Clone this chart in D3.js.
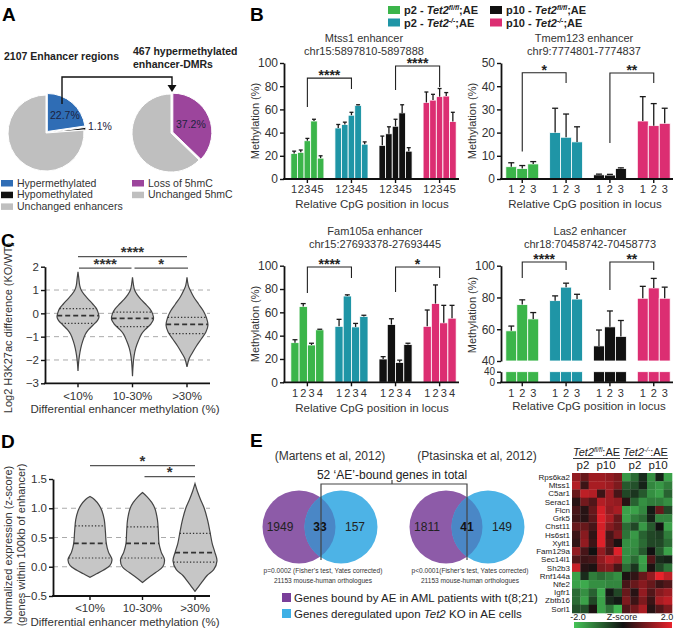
<!DOCTYPE html>
<html><head><meta charset="utf-8">
<script src="https://cdn.jsdelivr.net/npm/d3@7"></script>
<style>
body{margin:0;background:#fff;}
svg{font-family:"Liberation Sans",Arial,Helvetica,sans-serif;}
</style></head><body>
<svg id="fig" width="675" height="632"></svg>
<script>
// ---------------- DATA ----------------
const enhancerLabels = ["Hypermethylated","Hypomethylated","Unchanged enhancers"];
const enhancerPct = [22.7, 1.1, 76.2];
const dmrLabels = ["Loss of 5hmC","Unchanged 5hmC"];
const dmrPct = [37.2, 62.8];

const groupNames = ["p2","p2","p10","p10"];
const groupGeno = ["fl/fl","-/-","fl/fl","-/-"];

const mtss1Mean = [[22,23,33,50,18],[44,47,55,63.5,30],[29,39,45.5,57,24],[66,68,71,71.5,49.5]];
const mtss1Err  = [[2,2,2,1.5,2],[3,2,2.5,0.5,2],[8,6,6,7,3],[9,5,7,3,8]];
const tmem123Mean = [[5.3,4.5,6.5],[20,18,16],[1.8,1.7,4.5],[25,23,24]];
const tmem123Err  = [[1.7,1.3,1],[10.5,10,6.5],[0.3,0.3,0.3],[10.5,9.5,6.5]];
const fam105aMean = [[34,65,32,45],[48,74,47.5,56.5],[20,49.5,17,32.5],[48,67.5,51,55]];
const fam105aErr  = [[2.5,2.5,1.5,0.5],[6,1,3,1],[2,5,2,1],[14,16,15,11]];
const las2Mean = [[59,75.5,66.5],[78,86.5,79],[49.5,61.5,55.5],[79.5,86,79.5]];
const las2Err  = [[3,3,4],[3,2.5,3],[10,10,10],[7.5,6,7]];

const methCats = ["<10%","10-30%",">30%"];
// violin profiles: [value, relative density]
const h3k27Profiles = [
 [[1.78,0],[1.5,0.04],[1.2,0.08],[1.0,0.15],[0.8,0.3],[0.6,0.5],[0.4,0.7],[0.2,0.88],[0,0.97],[-0.15,1.0],[-0.3,0.93],[-0.5,0.72],[-0.7,0.5],[-0.9,0.35],[-1.2,0.22],[-1.5,0.13],[-1.8,0.07],[-2.1,0.03],[-2.47,0]],
 [[1.55,0],[1.2,0.05],[1.0,0.1],[0.8,0.22],[0.6,0.4],[0.4,0.62],[0.2,0.82],[0,0.95],[-0.25,1.0],[-0.45,0.88],[-0.7,0.6],[-0.9,0.42],[-1.2,0.27],[-1.5,0.15],[-1.8,0.08],[-2.1,0.04],[-2.7,0]],
 [[1.55,0],[1.2,0.06],[1.0,0.15],[0.7,0.32],[0.4,0.55],[0.1,0.78],[-0.2,0.93],[-0.5,1.0],[-0.8,0.9],[-1.1,0.68],[-1.4,0.45],[-1.7,0.25],[-1.95,0.1],[-2.3,0]]
];
const h3k27Median = [-0.1,-0.22,-0.47];
const h3k27Q3 = [0.2,0.05,-0.17];
const h3k27Q1 = [-0.43,-0.57,-0.87];

const exprProfiles = [
 [[1.2,0],[1.15,0.2],[1.05,0.42],[0.95,0.55],[0.8,0.65],[0.6,0.7],[0.4,0.74],[0.25,0.84],[0.12,1.0],[0.02,0.9],[-0.06,0.6],[-0.12,0.3],[-0.18,0]],
 [[1.27,0],[1.2,0.2],[1.1,0.42],[1.0,0.56],[0.8,0.68],[0.6,0.72],[0.4,0.75],[0.25,0.85],[0.12,1.0],[0.0,0.92],[-0.1,0.6],[-0.18,0.3],[-0.27,0]],
 [[1.42,0],[1.3,0.1],[1.15,0.25],[1.0,0.42],[0.8,0.57],[0.6,0.68],[0.4,0.78],[0.25,0.9],[0.1,1.0],[-0.05,0.85],[-0.15,0.55],[-0.28,0.28],[-0.42,0]]
];
const exprMedian = [0.4,0.4,0.24];
const exprQ3 = [0.7,0.68,0.57];
const exprQ1 = [0.15,0.15,0.08];

const vennData = [
 {study:"(Martens et al, 2012)", left:1949, both:33, right:157, p:"p=0.0002 (Fisher\u2019s test, Yates corrected)"},
 {study:"(Ptasinska et al, 2012)", left:1811, both:41, right:149, p:"p<0.0001(Fisher\u2019s test, Yates corrected)"}
];

const hmGenes = ["Rps6ka2","Mtss1","C5ar1","Serac1","Flcn","Grk5","Chst11","Hs6st1","Xylt1","Fam129a","Sec14l1","Sh2b3","Rnf144a","Nfe2","Igfr1","Zbtb16","Sorl1"];
const hmZ = [
 [1.2,0.8,1.3,1.3,1.2,1.0,-1.5,-1.0,-0.3,-1.4,-0.2,-1.6],
 [1.5,0.4,1.4,1.4,1.3,1.0,-0.8,-0.7,-0.2,-1.3,-1.5,-1.2],
 [0.8,1.6,1.5,0.4,1.3,0.5,-0.6,-0.4,-0.8,-1.4,-1.6,-0.9],
 [0.2,0.9,0.6,1.5,1.3,1.2,0.2,-0.9,-1.4,-1.2,-1.2,-1.4],
 [0.5,0.2,0.8,1.8,1.2,1.4,-1.6,-1.6,-1.3,-0.1,0.8,-0.6],
 [0.4,0.2,0.7,1.9,1.4,0.8,-1.6,-1.2,-1.0,-0.2,-1.3,-1.3],
 [0.8,0.8,0.5,1.8,1.1,0.8,-1.0,-0.6,-1.5,-0.8,0.0,-1.6],
 [0.4,1.1,0.3,1.9,0.5,1.0,-1.1,-1.5,-0.9,-0.6,-0.5,-1.2],
 [0.3,1.2,0.4,1.9,0.6,0.1,-1.4,-1.4,-1.0,-0.6,-0.6,-1.0],
 [1.2,0.5,0.0,1.2,0.6,1.9,-1.4,-1.3,-0.8,0.0,-0.8,-1.6],
 [0.6,0.4,0.5,1.2,1.6,1.4,-1.4,-1.0,-1.6,0.6,-0.3,-0.2],
 [1.7,0.2,0.1,1.0,1.1,0.5,-1.0,-0.4,-1.5,0.1,-0.6,-1.1],
 [-1.6,-0.3,-1.2,-1.0,-1.2,-1.4,0.1,0.3,0.8,1.2,2.0,1.6],
 [-1.6,-1.7,-1.4,-1.4,-1.3,-1.3,0.5,0.8,1.1,0.8,0.4,0.6],
 [-1.0,-1.4,-0.9,-1.7,-0.1,-0.6,0.8,0.2,1.2,0.6,1.1,1.3],
 [-1.0,-1.6,-0.6,-1.6,-0.3,-0.1,1.0,0.4,1.0,0.4,1.4,1.6],
 [-0.7,-0.7,0.1,-1.6,-1.1,-1.8,0.6,0.9,1.4,0.2,0.6,1.0]
];

// ---------------- DRAWING ----------------
const svg = d3.select("#fig");
const barColors = ["#3bb54a","#1f95a6","#111111","#dc2e72"];

function txt(x,y,s,o={}){
  const t = svg.append("text").attr("x",x).attr("y",y).text(s)
    .attr("font-size",o.size||11).attr("fill",o.fill||"#222");
  if(o.anchor) t.attr("text-anchor",o.anchor);
  if(o.weight) t.attr("font-weight",o.weight);
  if(o.style) t.attr("font-style",o.style);
  if(o.rotate) t.attr("transform",`rotate(-90 ${x} ${y})`);
  return t;
}

// Panel labels
[["A",2,21],["B",250,21],["C",1,247],["D",1,448],["E",250,447]].forEach(d=>txt(d[1],d[2],d[0],{size:19,weight:"bold",fill:"#000"}));

// ---------- Panel A: pies ----------
function drawPie(cx,cy,r,vals,colors,explodeN){
  const pie = d3.pie().sort(null).value(d=>d)(vals);
  const arc = d3.arc().innerRadius(0).outerRadius(r);
  const g = svg.append("g").attr("transform",`translate(${cx},${cy})`);
  pie.forEach((p,i)=>{
    let dx=0,dy=0;
    if(i<explodeN){const m=(p.startAngle+p.endAngle)/2; dx=Math.sin(m)*2; dy=-Math.cos(m)*2;}
    g.append("path").attr("d",arc(p)).attr("fill",colors[i]).attr("stroke","#fff").attr("stroke-width",1)
      .attr("transform",`translate(${dx},${dy})`);
  });
}
drawPie(46,133,38,enhancerPct,["#2f6db5","#111","#bfbfbf"],2);
drawPie(171,133,39,dmrPct,["#9c459c","#bfbfbf"],1);
txt(4,60,"2107 Enhancer regions",{size:10.5,weight:"bold"});
txt(133,55,"467 hypermethylated",{size:10.5,weight:"bold"});
txt(133,68,"enhancer-DMRs",{size:10.5,weight:"bold"});
txt(50,119,enhancerPct[0]+"%",{size:10.5,fill:"#1c2340"});
txt(88,130,enhancerPct[1]+"%",{size:10.5,fill:"#1c2340"});
txt(176,128,dmrPct[0]+"%",{size:10.5,fill:"#1c2340"});
svg.append("path").attr("d","M62,104V77H172V86").attr("fill","none").attr("stroke","#111").attr("stroke-width",1.4);
svg.append("path").attr("d","M167.5,85L176.5,85L172,92Z").attr("fill","#111");
[["#2f6db5",0],["#111",1],["#bfbfbf",2]].forEach((c,i)=>{
  svg.append("rect").attr("x",1).attr("y",180+i*11.7).attr("width",12).attr("height",6.5).attr("fill",c[0]);
  txt(17,186.5+i*11.7,enhancerLabels[i],{size:10.5,fill:"#333"});
});
[["#9c459c",0],["#bfbfbf",1]].forEach((c,i)=>{
  svg.append("rect").attr("x",132).attr("y",180+i*11.7).attr("width",12).attr("height",6.5).attr("fill",c[0]);
  txt(148,186.5+i*11.7,dmrLabels[i],{size:10.5,fill:"#333"});
});

// ---------- Panel B legend ----------
function genoText(x,y,grp,geno,size){
  const t = svg.append("text").attr("x",x).attr("y",y).attr("font-size",size).attr("font-weight","bold").attr("fill","#222");
  t.append("tspan").text(grp+" - ");
  t.append("tspan").attr("font-style","italic").text("Tet2");
  t.append("tspan").attr("font-size",size*0.62).attr("font-style","italic").attr("dy",-4).text(geno);
  t.append("tspan").attr("dy",4).text(";AE");
  return t;
}
[0,1,2,3].forEach(i=>{
  const col = i<2?0:1, row=i%2;
  const x = col?490:388;
  svg.append("rect").attr("x",x).attr("y",6+row*12.5).attr("width",12).attr("height",8).attr("fill",barColors[i]);
  genoText(x+16,14+row*12.5,groupNames[i],groupGeno[i],11);
});

// ---------- Bar chart helper ----------
function barChart(cfg){
  const g = svg.append("g");
  const x0 = d3.scaleBand().domain(d3.range(4)).range(cfg.xRange).paddingInner(0.25).paddingOuter(0.11);
  const n = cfg.means[0].length;
  const x1 = d3.scaleBand().domain(d3.range(n)).range([0,x0.bandwidth()]);
  const scales = cfg.segments.map(s=>d3.scaleLinear().domain(s.domain).range(s.range));
  const base = scales[0](0);
  cfg.means.forEach((vals,gi)=>{
    vals.forEach((v,i)=>{
      const bx = x0(gi)+x1(i), bw = x1.bandwidth();
      scales.forEach(sc=>{
        const [lo,hi] = sc.domain();
        if(v<=lo) return;
        const top = Math.min(v,hi);
        g.append("rect").attr("x",bx).attr("width",bw).attr("y",sc(top)).attr("height",sc(lo)-sc(top))
          .attr("fill",barColors[gi]).attr("stroke","#fff").attr("stroke-width",0.8);
      });
      const sc = scales.find(s=>v>=s.domain()[0] && v<=s.domain()[1]) || scales[scales.length-1];
      const e = cfg.errs[gi][i], cx = bx+bw/2, cw = Math.min(bw*0.3,3);
      g.append("line").attr("x1",cx).attr("x2",cx).attr("y1",sc(v)).attr("y2",sc(v+e)).attr("stroke","#1a1a1a").attr("stroke-width",1.3);
      g.append("line").attr("x1",cx-cw).attr("x2",cx+cw).attr("y1",sc(v+e)).attr("y2",sc(v+e)).attr("stroke","#1a1a1a").attr("stroke-width",1.3);
      g.append("text").attr("x",cx).attr("y",cfg.tickY).attr("text-anchor","middle").attr("font-size",11).attr("fill","#333").text(i+1);
    });
    const gc = x0(gi)+x0.bandwidth()/2;
    g.append("line").attr("x1",gc).attr("x2",gc).attr("y1",base).attr("y2",base+4).attr("stroke","#111").attr("stroke-width",1.4);
  });
  // axes
  cfg.segments.forEach((s,si)=>{
    const ax = g.append("g").attr("transform",`translate(${cfg.axisX},0)`)
      .call(d3.axisLeft(scales[si]).tickValues(s.ticks).tickSize(4).tickSizeOuter(0).tickPadding(2));
    ax.select(".domain").attr("stroke","#111").attr("stroke-width",1.8);
    ax.selectAll(".tick line").attr("stroke","#111").attr("stroke-width",1.4);
    ax.selectAll(".tick text").attr("font-size",s.fs||12).attr("fill","#333").attr("font-family","Liberation Sans, Arial, sans-serif");
  });
  g.append("line").attr("x1",cfg.axisX-0.9).attr("x2",cfg.xRange[1]-2).attr("y1",base).attr("y2",base).attr("stroke","#111").attr("stroke-width",1.8);
  // brackets
  const ys = scales[scales.length-1];
  cfg.brackets.forEach(b=>{
    const xa = x0(b.g[0])+x0.bandwidth()/2, xb = x0(b.g[1])+x0.bandwidth()/2;
    g.append("path").attr("d",`M${xa},${ys(b.legs[0])}V${ys(b.top)}H${xb}V${ys(b.legs[1])}`)
      .attr("fill","none").attr("stroke","#222").attr("stroke-width",1.1);
    g.append("text").attr("x",(xa+xb)/2).attr("y",ys(b.top)+2).attr("text-anchor","middle")
      .attr("font-size",14).attr("font-weight","bold").attr("fill","#222").text(b.label);
  });
  txt(cfg.titleX,cfg.titleY,cfg.title,{size:11,anchor:"middle",fill:"#333"});
  txt(cfg.titleX,cfg.titleY+13,cfg.sub,{size:11,anchor:"middle",fill:"#333"});
  txt(cfg.xlabX,cfg.xlabY,"Relative CpG position in locus",{size:11.5,anchor:"middle",fill:"#333"});
  txt(cfg.ylabX,cfg.ylabY,"Methylation (%)",{size:11,anchor:"middle",fill:"#333",rotate:true});
}

barChart({means:mtss1Mean, errs:mtss1Err, xRange:[286,461], axisX:284,
  segments:[{domain:[0,100],range:[179,63],ticks:[0,20,40,60,80,100]}],
  tickY:193, title:"Mtss1 enhancer", sub:"chr15:5897810-5897888", titleX:364, titleY:42,
  xlabX:372, xlabY:208, ylabX:259, ylabY:121,
  brackets:[{g:[0,1],top:87,legs:[62,77.6],label:"****"},{g:[2,3],top:97.4,legs:[76.7,79.3],label:"****"}]});
barChart({means:tmem123Mean, errs:tmem123Err, xRange:[501,675], axisX:501,
  segments:[{domain:[0,50],range:[179,63],ticks:[0,10,20,30,40,50]}],
  tickY:193, title:"Tmem123 enhancer", sub:"chr9:7774801-7774837", titleX:584, titleY:42,
  xlabX:585, xlabY:208, ylabX:476, ylabY:121,
  brackets:[{g:[0,1],top:45.8,legs:[11.8,41.4],label:"*"},{g:[2,3],top:45.7,legs:[15.5,41.4],label:"**"}]});
barChart({means:fam105aMean, errs:fam105aErr, xRange:[286,461], axisX:284,
  segments:[{domain:[0,100],range:[382.3,265.7],ticks:[0,20,40,60,80,100]}],
  tickY:397, title:"Fam105a enhancer", sub:"chr15:27693378-27693445", titleX:375, titleY:235,
  xlabX:372, xlabY:412, ylabX:259, ylabY:324,
  brackets:[{g:[0,1],top:98.9,legs:[76.6,89.4],label:"****"},{g:[2,3],top:98.9,legs:[77.4,89.4],label:"*"}]});
barChart({means:las2Mean, errs:las2Err, xRange:[501,675], axisX:501,
  segments:[{domain:[0,40],range:[382.3,371.7],ticks:[0,40],fs:10},{domain:[40,100],range:[361,265.7],ticks:[40,60,80,100]}],
  tickY:397, title:"Las2 enhancer", sub:"chr18:70458742-70458773", titleX:590, titleY:235,
  xlabX:589, xlabY:410, ylabX:476, ylabY:315,
  brackets:[{g:[0,1],top:102.3,legs:[92.3,97.3],label:"****"},{g:[2,3],top:102.3,legs:[84.7,97.3],label:"**"}]});

// ---------- Violin helper ----------
function widthAt(profile,v){
  for(let i=0;i<profile.length-1;i++){
    const a=profile[i],b=profile[i+1];
    if((v<=a[0]&&v>=b[0])){const t=(a[0]-v)/(a[0]-b[0]);return a[1]+(b[1]-a[1])*t;}
  }
  return 0;
}
function violinPanel(cfg){
  const g = svg.append("g");
  const x = d3.scalePoint().domain(methCats).range(cfg.xPts);
  const y = d3.scaleLinear().domain(cfg.yDomain).range(cfg.yRange);
  cfg.grid.forEach(v=>g.append("line").attr("x1",cfg.axisX).attr("x2",cfg.xEnd).attr("y1",y(v)).attr("y2",y(v))
      .attr("stroke","#aaa").attr("stroke-width",1).attr("stroke-dasharray","5,4"));
  cfg.profiles.forEach((p,i)=>{
    const xc = x(methCats[i]);
    const area = d3.area().y(d=>y(d[0])).x0(d=>xc-d[1]*cfg.maxW).x1(d=>xc+d[1]*cfg.maxW).curve(d3.curveCatmullRom);
    g.append("path").attr("d",area(p)).attr("fill","#c6c6c6").attr("stroke","#444").attr("stroke-width",1.2);
    const line=(v,dash,w)=>{const hw=widthAt(p,v)*cfg.maxW;
      g.append("line").attr("x1",xc-hw).attr("x2",xc+hw).attr("y1",y(v)).attr("y2",y(v)).attr("stroke","#333").attr("stroke-width",w).attr("stroke-dasharray",dash);};
    line(cfg.med[i],"5,3",1.7); line(cfg.q3[i],"1.3,2",1.2); line(cfg.q1[i],"1.3,2",1.2);
  });
  const ay = g.append("g").attr("transform",`translate(${cfg.axisX},0)`)
    .call(d3.axisLeft(y).tickValues(cfg.ticks).tickFormat(cfg.fmt).tickSize(4).tickSizeOuter(0).tickPadding(2));
  ay.select(".domain").attr("stroke","#111").attr("stroke-width",1.8);
  ay.selectAll(".tick line").attr("stroke","#111").attr("stroke-width",1.4);
  ay.selectAll(".tick text").attr("font-size",11.5).attr("fill","#333").attr("font-family","Liberation Sans, Arial, sans-serif");
  const base = cfg.yRange[0];
  g.append("line").attr("x1",cfg.axisX-0.9).attr("x2",cfg.xEnd).attr("y1",base).attr("y2",base).attr("stroke","#111").attr("stroke-width",1.8);
  methCats.forEach(c=>{
    g.append("line").attr("x1",x(c)).attr("x2",x(c)).attr("y1",base).attr("y2",base+4).attr("stroke","#111").attr("stroke-width",1.4);
    g.append("text").attr("x",x(c)).attr("y",cfg.tickY).attr("text-anchor","middle").attr("font-size",11.5).attr("fill","#333").text(c);
  });
  cfg.brackets.forEach(b=>{
    const xa=x(methCats[b.c[0]])+(b.pad?b.pad[0]:0), xb=x(methCats[b.c[1]])+(b.pad?b.pad[1]:0);
    g.append("line").attr("x1",xa).attr("x2",xb).attr("y1",y(b.y)).attr("y2",y(b.y)).attr("stroke","#555").attr("stroke-width",1.2);
    g.append("text").attr("x",(xa+xb)/2).attr("y",y(b.y)+0.5).attr("text-anchor","middle").attr("font-size",15).attr("font-weight","bold").attr("fill","#333").text(b.label);
  });
  txt(cfg.xlabX,cfg.xlabY,"Differential enhancer methylation (%)",{size:11.5,anchor:"middle",fill:"#333"});
}
violinPanel({profiles:h3k27Profiles, med:h3k27Median, q3:h3k27Q3, q1:h3k27Q1, xPts:[78,187], axisX:45, xEnd:210,
  yDomain:[-3,2], yRange:[383.3,266.7], ticks:[-3,-2,-1,0,1,2], fmt:d3.format("d"), grid:[1,0,-1,-2], maxW:21,
  tickY:400, xlabX:125, xlabY:413,
  brackets:[{c:[0,2],y:2.43,label:"****"},{c:[0,1],y:1.94,label:"****",pad:[1,-1]},{c:[1,2],y:1.94,label:"*",pad:[2,1]}]});
txt(12,328,"Log2 H3K27ac difference (KO/WT)",{size:11,anchor:"middle",fill:"#333",rotate:true});

violinPanel({profiles:exprProfiles, med:exprMedian, q3:exprQ3, q1:exprQ1, xPts:[90,195], axisX:53, xEnd:210,
  yDomain:[-0.5,1.5], yRange:[596,479], ticks:[-0.5,0,0.5,1.0,1.5], fmt:d3.format(".1f"), grid:[1,0.5,0], maxW:22,
  tickY:612, xlabX:125, xlabY:626,
  brackets:[{c:[0,2],y:1.73,label:"*"},{c:[1,2],y:1.54,label:"*",pad:[2,0]}]});
txt(12,545,"Normalized expression (z-score)",{size:11,anchor:"middle",fill:"#333",rotate:true});
txt(25,545,"(genes within 100kb of enhancer)",{size:11,anchor:"middle",fill:"#333",rotate:true});

// ---------- Panel E: Venn ----------
const vennPos = [{pc:299,bc:341},{pc:446,bc:488}];
const vy = 527, vr = 36.5;
const defs = svg.append("defs");
vennData.forEach((d,i)=>{
  const p = vennPos[i];
  defs.append("clipPath").attr("id","vclip"+i).append("circle").attr("cx",p.bc).attr("cy",vy).attr("r",vr);
  svg.append("circle").attr("cx",p.pc).attr("cy",vy).attr("r",vr).attr("fill","#8d5ba8");
  svg.append("circle").attr("cx",p.bc).attr("cy",vy).attr("r",vr).attr("fill","#4db3e6");
  svg.append("circle").attr("cx",p.pc).attr("cy",vy).attr("r",vr).attr("fill","#4a87c6").attr("clip-path",`url(#vclip${i})`);
  const mid=(p.pc+p.bc)/2;
  txt(p.pc-19,vy+4,d.left,{size:12,anchor:"middle",fill:"#222"});
  txt(mid,vy+4,d.both,{size:12,anchor:"middle",fill:"#111",weight:"bold"});
  txt(p.bc+14,vy+4,d.right,{size:12,anchor:"middle",fill:"#222"});
  txt(mid+3,573,d.p,{size:6.6,anchor:"middle",fill:"#333"});
  txt(mid+3,583,"21153 mouse-human orthologues",{size:6.6,anchor:"middle",fill:"#333"});
  txt(mid+10,460,d.study,{size:12,anchor:"middle",fill:"#333"});
});
svg.append("path").attr("d",`M${(vennPos[0].pc+vennPos[0].bc)/2+1},560V484H${(vennPos[1].pc+vennPos[1].bc)/2}V560`).attr("fill","none").attr("stroke","#444").attr("stroke-width",1.2);
svg.append("line").attr("x1",392).attr("x2",392).attr("y1",484).attr("y2",480).attr("stroke","#444").attr("stroke-width",1.2);
txt(392,479,"52 \u2018AE\u2019-bound genes in total",{size:12,anchor:"middle",fill:"#222"});
svg.append("rect").attr("x",282).attr("y",593).attr("width",9).attr("height",9).attr("fill","#7a3f9a");
svg.append("rect").attr("x",282).attr("y",609).attr("width",9).attr("height",9).attr("fill","#3eb0e6");
txt(294,602,"Genes bound by AE in AML patients with t(8;21)",{size:11.5,fill:"#222"});
const lt = svg.append("text").attr("x",294).attr("y",618).attr("font-size",11.5).attr("fill","#222");
lt.append("tspan").text("Genes deregulated upon ");
lt.append("tspan").attr("font-style","italic").text("Tet2");
lt.append("tspan").text(" KO in AE cells");

// ---------- Heatmap ----------
const hx = d3.scaleBand().domain(d3.range(12)).range([572,672]);
const hy = d3.scaleBand().domain(hmGenes).range([473,613]);
const hc = d3.scaleLinear().domain([-2,0,2]).range(["#45c557","#111111","#e8222b"]).clamp(true);
hmZ.forEach((row,ri)=>row.forEach((v,ci)=>{
  svg.append("rect").attr("x",hx(ci)).attr("y",hy(hmGenes[ri])).attr("width",hx.bandwidth()+0.3).attr("height",hy.bandwidth()+0.3).attr("fill",hc(v));
}));
hmGenes.forEach(gn=>svg.append("text").attr("x",570).attr("y",hy(gn)+hy.bandwidth()/2+2.8).attr("text-anchor","end").attr("font-size",8).attr("fill","#222").text(gn));
function hmHeader(x,geno){
  const t = svg.append("text").attr("x",x).attr("y",456).attr("font-size",11).attr("fill","#222");
  t.append("tspan").attr("font-style","italic").text("Tet2");
  t.append("tspan").attr("font-size",6.5).attr("font-style","italic").attr("dy",-4).text(geno);
  t.append("tspan").attr("dy",4).text(":AE");
  const w = t.node().getComputedTextLength();
  svg.append("line").attr("x1",x).attr("x2",x+w).attr("y1",458.5).attr("y2",458.5).attr("stroke","#222").attr("stroke-width",0.9);
}
hmHeader(573,"fl/fl"); hmHeader(623,"-/-");
[["p2",583],["p10",606],["p2",635],["p10",658]].forEach(d=>txt(d[1],469,d[0],{size:11.5,anchor:"middle",fill:"#222"}));
const grad = defs.append("linearGradient").attr("id","zgrad");
[[0,"#45c557"],[0.5,"#111111"],[1,"#e8222b"]].forEach(s=>grad.append("stop").attr("offset",s[0]).attr("stop-color",s[1]));
svg.append("rect").attr("x",574).attr("y",622).attr("width",98).attr("height",6).attr("fill","url(#zgrad)");
txt(578,620,"-2.0",{size:9,anchor:"middle",fill:"#222"});
txt(622,620,"Z-score",{size:9,anchor:"middle",fill:"#222"});
txt(667,620,"2.0",{size:9,anchor:"middle",fill:"#222"});
</script></body></html>
